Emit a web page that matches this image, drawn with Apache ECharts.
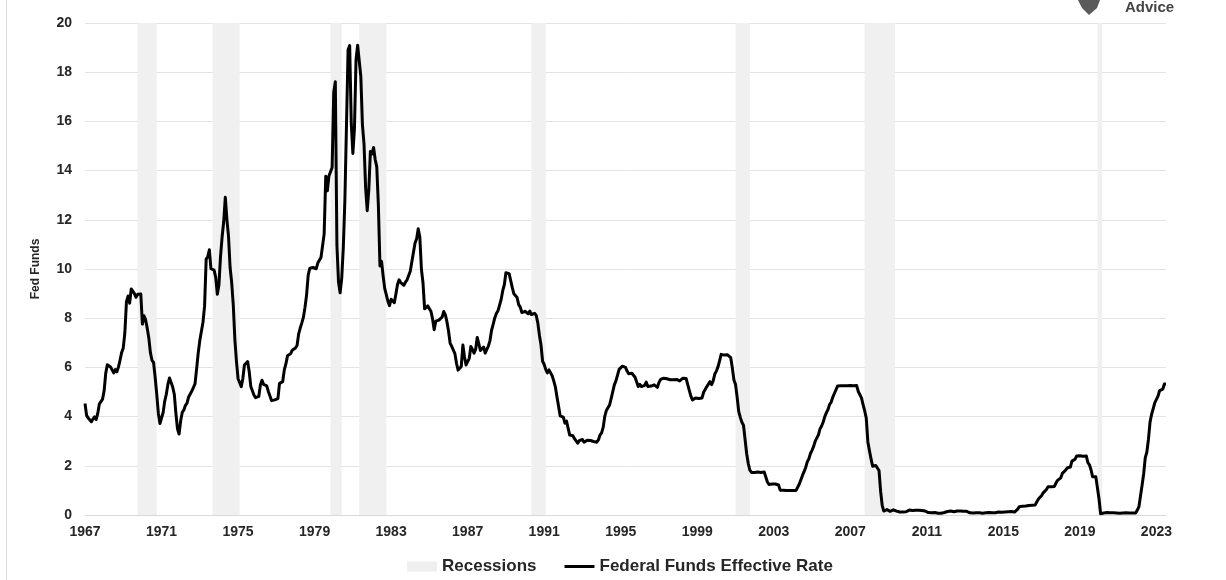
<!DOCTYPE html>
<html>
<head>
<meta charset="utf-8">
<title>Federal Funds Effective Rate</title>
<script src="https://cdn.jsdelivr.net/npm/echarts@6/dist/echarts.min.js"></script>
<style>
  html, body { margin: 0; padding: 0; background: #ffffff; }
  #chart { width: 1226px; height: 580px; }
</style>
</head>
<body>
<div id="chart"></div>
<script>
// Monthly series begins March 1967
const startYear = 1967;
const startMonth = 3;

// Federal Funds Effective Rate, monthly averages (%)
const rate1967 = [4.53, 4.05, 3.94, 3.98, 3.79, 3.90, 3.99, 3.88, 4.13, 4.51];
const rate1968_1979 = [
  4.61, 4.71, 5.05, 5.76, 6.11, 6.07, 6.02, 6.03, 5.78, 5.91, 5.82, 6.02,
  6.30, 6.61, 6.79, 7.41, 8.67, 8.90, 8.61, 9.19, 9.15, 9.00, 8.85, 8.97,
  8.98, 8.98, 7.76, 8.10, 7.94, 7.60, 7.21, 6.61, 6.29, 6.20, 5.60, 4.90,
  4.14, 3.72, 3.71, 4.16, 4.63, 4.91, 5.31, 5.57, 5.55, 5.20, 4.91, 4.14,
  3.50, 3.29, 3.83, 4.17, 4.27, 4.46, 4.55, 4.80, 4.87, 5.04, 5.06, 5.33,
  5.94, 6.58, 7.09, 7.12, 7.84, 8.49, 10.40, 10.50, 10.78, 10.01, 10.03, 9.95,
  9.65, 8.97, 9.35, 10.51, 11.31, 11.93, 12.92, 12.01, 11.34, 10.06, 9.45, 8.53,
  7.13, 6.24, 5.54, 5.49, 5.22, 5.55, 6.10, 6.14, 6.24, 5.82, 5.22, 5.20,
  4.87, 4.77, 4.84, 4.82, 5.29, 5.48, 5.31, 5.29, 5.25, 5.02, 4.95, 4.65,
  4.61, 4.68, 4.69, 4.73, 5.35, 5.39, 5.42, 5.90, 6.14, 6.47, 6.51, 6.56,
  6.70, 6.78, 6.79, 6.89, 7.36, 7.60, 7.81, 8.04, 8.45, 8.96, 9.76, 10.03,
  10.07, 10.06, 10.09, 10.01, 10.24, 10.29, 10.47, 10.94, 11.43, 13.77, 13.18, 13.78
];
const rate1980_1991 = [
  13.82, 14.13, 17.19, 17.61, 10.98, 9.47, 9.03, 9.61, 10.87, 12.81, 15.85, 18.90,
  19.08, 15.93, 14.70, 15.72, 18.52, 19.10, 19.04, 17.82, 15.87, 15.08, 13.31, 12.37,
  13.22, 14.78, 14.68, 14.94, 14.45, 14.15, 12.59, 10.12, 10.31, 9.71, 9.20, 8.95,
  8.68, 8.51, 8.77, 8.80, 8.63, 8.98, 9.37, 9.56, 9.45, 9.48, 9.34, 9.47,
  9.56, 9.59, 9.91, 10.29, 10.32, 11.06, 11.23, 11.64, 11.30, 9.99, 9.43, 8.38,
  8.35, 8.50, 8.58, 8.27, 7.97, 7.53, 7.88, 7.90, 7.92, 7.99, 8.05, 8.27,
  8.14, 7.86, 7.48, 6.99, 6.85, 6.92, 6.56, 6.17, 5.89, 5.85, 6.04, 6.91,
  6.43, 6.10, 6.13, 6.37, 6.85, 6.73, 6.58, 6.73, 7.22, 7.29, 6.69, 6.77,
  6.83, 6.58, 6.58, 6.87, 7.09, 7.51, 7.75, 8.01, 8.19, 8.30, 8.35, 8.76,
  9.12, 9.36, 9.85, 9.84, 9.81, 9.53, 9.24, 8.99, 9.02, 8.84, 8.55, 8.45,
  8.23, 8.24, 8.28, 8.26, 8.18, 8.29, 8.15, 8.13, 8.20, 8.11, 7.81, 7.31,
  6.91, 6.25, 6.12, 5.91, 5.78, 5.90, 5.82, 5.66, 5.45, 5.21, 4.81, 4.43
];
const rate1992_2003 = [
  4.03, 4.06, 3.98, 3.73, 3.82, 3.76, 3.25, 3.30, 3.22, 3.10, 3.09, 2.92,
  3.02, 3.03, 3.07, 2.96, 3.00, 3.04, 3.06, 3.03, 3.09, 2.99, 3.02, 2.96,
  3.05, 3.25, 3.34, 3.56, 4.01, 4.25, 4.26, 4.47, 4.73, 4.76, 5.29, 5.45,
  5.53, 5.92, 5.98, 6.05, 6.01, 6.00, 5.85, 5.74, 5.80, 5.76, 5.80, 5.60,
  5.56, 5.22, 5.31, 5.22, 5.24, 5.27, 5.40, 5.22, 5.30, 5.24, 5.31, 5.29,
  5.25, 5.19, 5.39, 5.51, 5.50, 5.56, 5.52, 5.54, 5.54, 5.50, 5.52, 5.50,
  5.56, 5.51, 5.49, 5.45, 5.49, 5.56, 5.54, 5.55, 5.51, 5.07, 4.83, 4.68,
  4.63, 4.76, 4.81, 4.74, 4.74, 4.76, 4.99, 5.07, 5.22, 5.20, 5.42, 5.30,
  5.45, 5.73, 5.85, 6.02, 6.27, 6.53, 6.54, 6.50, 6.52, 6.51, 6.51, 6.40,
  5.98, 5.49, 5.31, 4.80, 4.21, 3.97, 3.77, 3.65, 3.07, 2.49, 2.09, 1.82,
  1.73, 1.74, 1.73, 1.75, 1.75, 1.75, 1.73, 1.74, 1.75, 1.75, 1.34, 1.24,
  1.24, 1.26, 1.25, 1.26, 1.26, 1.22, 1.01, 1.03, 1.01, 1.01, 1.00, 0.98
];
const rate2004_2015 = [
  1.00, 1.01, 1.00, 1.00, 1.00, 1.03, 1.26, 1.43, 1.61, 1.76, 1.93, 2.16,
  2.28, 2.50, 2.63, 2.79, 3.00, 3.04, 3.26, 3.50, 3.62, 3.78, 4.00, 4.16,
  4.29, 4.49, 4.59, 4.79, 4.94, 4.99, 5.24, 5.25, 5.25, 5.25, 5.25, 5.24,
  5.25, 5.26, 5.26, 5.25, 5.25, 5.25, 5.26, 5.02, 4.94, 4.76, 4.49, 4.24,
  3.94, 2.98, 2.61, 2.28, 1.98, 2.00, 2.01, 2.00, 1.81, 0.97, 0.39, 0.16,
  0.15, 0.22, 0.18, 0.15, 0.18, 0.21, 0.16, 0.16, 0.15, 0.12, 0.12, 0.12,
  0.11, 0.13, 0.16, 0.20, 0.20, 0.18, 0.18, 0.19, 0.19, 0.19, 0.19, 0.18,
  0.17, 0.16, 0.14, 0.10, 0.09, 0.09, 0.07, 0.10, 0.08, 0.07, 0.08, 0.07,
  0.08, 0.10, 0.13, 0.14, 0.16, 0.16, 0.16, 0.13, 0.14, 0.16, 0.16, 0.16,
  0.14, 0.15, 0.14, 0.15, 0.11, 0.09, 0.09, 0.08, 0.08, 0.09, 0.08, 0.09,
  0.07, 0.07, 0.08, 0.09, 0.09, 0.10, 0.09, 0.09, 0.09, 0.09, 0.09, 0.12,
  0.11, 0.11, 0.11, 0.12, 0.12, 0.13, 0.13, 0.14, 0.14, 0.12, 0.12, 0.24
];
const rate2016_2023 = [
  0.34, 0.38, 0.36, 0.37, 0.37, 0.38, 0.39, 0.40, 0.40, 0.40, 0.41, 0.54,
  0.65, 0.66, 0.79, 0.90, 0.91, 1.04, 1.15, 1.16, 1.15, 1.15, 1.16, 1.30,
  1.41, 1.42, 1.51, 1.69, 1.70, 1.82, 1.91, 1.91, 1.95, 2.19, 2.20, 2.27,
  2.40, 2.40, 2.41, 2.42, 2.39, 2.38, 2.40, 2.13, 2.04, 1.83, 1.55, 1.55,
  1.55, 1.58, 0.65, 0.05, 0.05, 0.08, 0.09, 0.10, 0.09, 0.09, 0.09, 0.09,
  0.09, 0.08, 0.07, 0.07, 0.06, 0.08, 0.10, 0.09, 0.08, 0.08, 0.08, 0.08,
  0.08, 0.08, 0.20, 0.33, 0.77, 1.21, 1.68, 2.33, 2.56, 3.08, 3.78, 4.10,
  4.33, 4.57, 4.65, 4.83, 5.06, 5.08, 5.12, 5.33, 5.33
];

// NBER recession periods: [first month, last month] (YYYY-MM)
const recessions = [
  ['1969-12', '1970-11'],
  ['1973-11', '1975-03'],
  ['1980-01', '1980-07'],
  ['1981-07', '1982-11'],
  ['1990-07', '1991-03'],
  ['2001-03', '2001-11'],
  ['2007-12', '2009-06'],
  ['2020-02', '2020-04']
];

const fedFunds = [].concat(rate1967, rate1968_1979, rate1980_1991, rate1992_2003, rate2004_2015, rate2016_2023);

// Month labels for the category axis
const months = [];
for (let i = 0; i < fedFunds.length; i++) {
  const m0 = startMonth - 1 + i;
  const y = startYear + Math.floor(m0 / 12);
  const m = (m0 % 12) + 1;
  months.push(y + '-' + (m < 10 ? '0' + m : m));
}

function nextMonth(label) {
  let y = +label.slice(0, 4), m = +label.slice(5, 7) + 1;
  if (m > 12) { m = 1; y++; }
  return y + '-' + (m < 10 ? '0' + m : m);
}

const recessionAreas = recessions.map(r => [{ xAxis: r[0] }, { xAxis: nextMonth(r[1]) }]);

const textColor = '#262626';
const fontFamily = '"Liberation Sans", Arial, sans-serif';
const chart = echarts.init(document.getElementById('chart'), null, { renderer: 'canvas' });

chart.setOption({
  backgroundColor: '#ffffff',
  animation: false,
  grid: { left: 85, right: 60, top: 23, bottom: 65 },
  legend: {
    left: 402,
    top: 553,
    itemWidth: 30,
    itemHeight: 10,
    itemGap: 28,
    textStyle: { color: textColor, fontFamily: fontFamily, fontWeight: 'bold', fontSize: 17 },
    data: [
      { name: 'Recessions', icon: 'rect', itemStyle: { color: '#efefef' } },
      { name: 'Federal Funds Effective Rate', icon: 'path://M0,0H30V3H0Z', itemStyle: { color: '#000000' } }
    ]
  },
  xAxis: {
    type: 'category',
    data: months,
    boundaryGap: false,
    axisLine: { lineStyle: { color: '#d9d9d9', width: 1 } },
    axisTick: { show: false },
    splitLine: { show: false },
    axisLabel: {
      interval: i => i % 48 === 0,
      formatter: v => v.slice(0, 4),
      color: textColor,
      fontFamily: fontFamily,
      fontWeight: 'bold',
      fontSize: 14,
      margin: 10,
      hideOverlap: false
    }
  },
  yAxis: {
    type: 'value',
    min: 0,
    max: 20,
    interval: 2,
    name: 'Fed Funds',
    nameLocation: 'middle',
    nameRotate: 90,
    nameGap: 43,
    nameTextStyle: { color: textColor, fontFamily: fontFamily, fontWeight: 'bold', fontSize: 12 },
    axisLine: { show: false },
    axisTick: { show: false },
    splitLine: { lineStyle: { color: '#e3e3e3', width: 1 } },
    axisLabel: {
      color: textColor,
      fontFamily: fontFamily,
      fontWeight: 'bold',
      fontSize: 14,
      margin: 13
    }
  },
  series: [
    {
      name: 'Recessions',
      type: 'line',
      data: [],
      color: '#efefef',
      silent: true,
      markArea: {
        silent: true,
        itemStyle: { color: '#f0f0f0' },
        data: recessionAreas
      }
    },
    {
      name: 'Federal Funds Effective Rate',
      type: 'line',
      data: fedFunds,
      color: '#000000',
      showSymbol: false,
      symbol: 'none',
      lineStyle: { color: '#000000', width: 3, join: 'round' },
      z: 3
    }
  ],
  graphic: [
    // frame edge on the left
    { type: 'rect', left: 6, top: 0, shape: { width: 1, height: 580 }, style: { fill: '#dcdcdc' }, silent: true },
    // brand mark in the top corner
    {
      type: 'polygon',
      shape: { points: [[1078, 0], [1100, 0], [1097, 8], [1089, 15], [1082, 8]] },
      style: { fill: '#5a5a5a' },
      silent: true
    },
    {
      type: 'text',
      left: 1125,
      top: 0,
      style: { text: 'Advice', fill: '#444444', font: 'bold 15px "Liberation Sans", Arial, sans-serif' },
      silent: true
    }
  ]
});
</script>
</body>
</html>
